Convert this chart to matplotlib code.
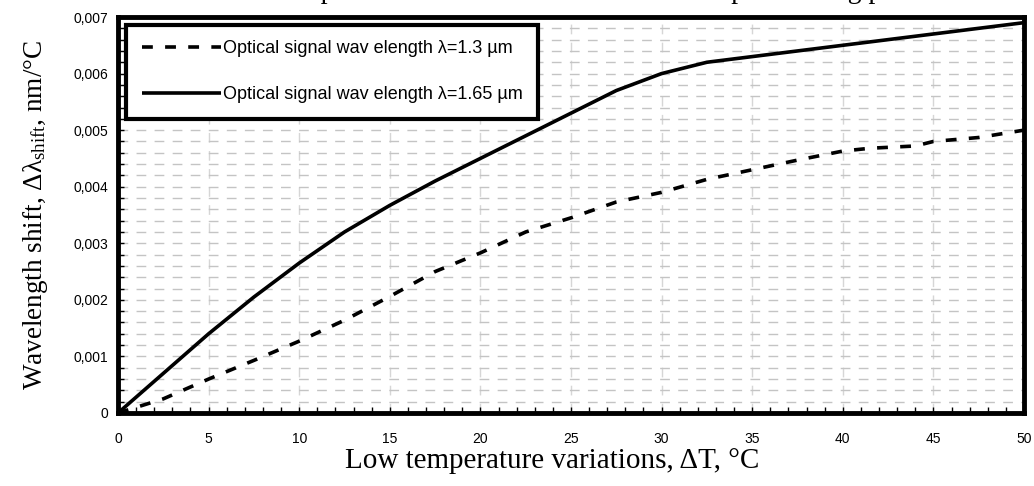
import matplotlib
matplotlib.use("Agg")
import matplotlib.pyplot as plt
from matplotlib.ticker import MultipleLocator, FuncFormatter

# ---- data ----
x_165 = [0, 2.5, 5, 7.5, 10, 12.5, 15, 17.5, 20, 22.5, 25, 27.5, 30, 32.5, 50]
y_165 = [0, 0.0007, 0.0014, 0.00205, 0.00265, 0.0032, 0.00367, 0.0041, 0.0045,
         0.0049, 0.0053, 0.0057, 0.0060, 0.0062, 0.0069]

x_13 = [0, 2.5, 5, 7.5, 10, 12.5, 15, 17.5, 20, 22.5, 25, 27.5, 30, 32.5, 35,
        37.5, 40, 41.5, 44, 45, 47.5, 50]
y_13 = [0, 0.00025, 0.0006, 0.00093, 0.00127, 0.00164, 0.00206, 0.0025, 0.00283,
        0.0032, 0.00345, 0.00373, 0.0039, 0.00413, 0.0043, 0.00447, 0.00463,
        0.00468, 0.00472, 0.0048, 0.00487, 0.0050]

label_13 = "Optical signal wav elength \u03bb=1.3 \u00b5m"
label_165 = "Optical signal wav elength \u03bb=1.65 \u00b5m"
xlabel = "Low temperature variations, \u0394T, \u00b0C"
ylabel = "Wavelength shift, \u0394\u03bb$_{\\mathrm{shift}}$, nm/\u00b0C"
title_prefix = "The shift of the s"
title = "The shift of the spectral characteristics of the sensor upon heating period"

plt.rcParams['mathtext.fontset'] = 'custom'
plt.rcParams['mathtext.rm'] = 'Liberation Serif'
plt.rcParams['mathtext.it'] = 'Liberation Serif:italic'

W, H = 1034, 486
fig = plt.figure(figsize=(W / 100, H / 100), dpi=100)
ax = fig.add_axes([118 / W, 1 - 413 / H, (1024 - 118) / W, (413 - 17) / H])

ax.plot(x_13, y_13, color='black', lw=2.6, linestyle=(0, (3.0, 3.4)),
        dash_capstyle='butt', label=label_13, zorder=3)
ax.plot(x_165, y_165, color='black', lw=2.6, solid_capstyle='butt',
        label=label_165, zorder=3)

ax.set_xlim(0, 50)
ax.set_ylim(0, 0.007)
ax.xaxis.set_major_locator(MultipleLocator(5))
ax.xaxis.set_minor_locator(MultipleLocator(1))
ax.yaxis.set_major_locator(MultipleLocator(0.001))
ax.yaxis.set_minor_locator(MultipleLocator(0.0002))

def yfmt(v, pos):
    if abs(v) < 1e-12:
        return "0"
    return ("%.3f" % v).replace(".", ",")

ax.yaxis.set_major_formatter(FuncFormatter(yfmt))
ax.xaxis.set_major_formatter(FuncFormatter(lambda v, p: "%d" % v))

for lab in ax.get_xticklabels() + ax.get_yticklabels():
    lab.set_fontfamily('Liberation Sans')
    lab.set_fontsize(10)

ax.tick_params(axis='both', which='both', direction='in', color='black')
ax.tick_params(axis='both', which='major', length=4, width=1.0)
ax.tick_params(axis='both', which='minor', length=4, width=1.0)
ax.tick_params(axis='x', which='major', pad=14)
ax.tick_params(axis='y', which='major', pad=7)

ax.grid(axis='x', which='major', color='#d6d6d6', linestyle=(0, (7, 6)), lw=1.0)
ax.grid(axis='y', which='both', color='#c4c4c4', linestyle=(0, (7, 6)), lw=1.0)
ax.set_axisbelow(True)

for s in ax.spines.values():
    s.set_linewidth(3.5)
    s.set_color('black')

ax.set_xlabel(xlabel, fontfamily='Liberation Serif', fontsize=21)
ax.xaxis.set_label_coords(0.479, -0.088)
ax.xaxis.label.set_va('top')
ax.set_ylabel(ylabel, fontfamily='Liberation Serif', fontsize=19.5, labelpad=17)

leg = ax.legend(loc='upper left', bbox_to_anchor=(0.009, 0.98),
                prop={'family': 'Liberation Sans', 'size': 13},
                handlelength=4.4, handletextpad=0.12,
                labelspacing=1.6, borderpad=0.85, borderaxespad=0,
                fancybox=False, framealpha=1, edgecolor='black')
leg.get_frame().set_linewidth(3.0)

# title: only its descenders are visible at the top edge, as in the reference
tfont = dict(fontfamily='Liberation Serif', fontsize=20)
probe = fig.text(0, 0, title_prefix, **tfont)
probe_p = fig.text(0, 0, "p", **tfont)
fig.canvas.draw()
r = fig.canvas.get_renderer()
wpre = probe.get_window_extent(r).width
wp = probe_p.get_window_extent(r).width
probe.remove()
probe_p.remove()
x0 = (328 - wpre - wp / 2) / W
fig.text(x0, 1.0 + 2.0 / H, title, ha='left', va='baseline', **tfont)

fig.savefig("out.png", dpi=100)
